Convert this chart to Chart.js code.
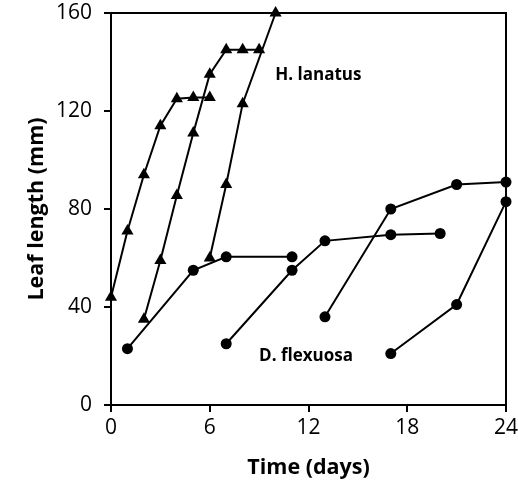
<!DOCTYPE html>
<html>
<head>
<meta charset="utf-8">
<script src="https://cdn.jsdelivr.net/npm/chart.js@4/dist/chart.umd.min.js"></script>
<style>
html,body{margin:0;padding:0;background:#fff;}
#wrap{width:518px;height:485px;}
</style>
</head>
<body>
<div id="wrap"><canvas id="c" width="518" height="485"></canvas></div>
<script>
// H. lanatus cohorts (triangles)
const hlDays1 = [0, 1, 2, 3, 4, 5, 6];
const hlLen1  = [44, 71, 94, 114, 125, 125.5, 125.5];
const hlDays2 = [2, 3, 4, 5, 6, 7, 8, 9];
const hlLen2  = [35, 59, 85.5, 111, 135, 145, 145, 145];
const hlDays3 = [6, 7, 8, 10];
const hlLen3  = [60, 90, 123, 160];
// D. flexuosa cohorts (circles)
const dfDays1 = [1, 5, 7, 11];
const dfLen1  = [23, 55, 60.5, 60.5];
const dfDays2 = [7, 11, 13, 17, 20];
const dfLen2  = [25, 55, 67, 69.5, 70];
const dfDays3 = [13, 17, 21, 24];
const dfLen3  = [36, 80, 90, 91];
const dfDays4 = [17, 21, 24];
const dfLen4  = [21, 41, 83];

const xTicks = [0, 6, 12, 18, 24];
const yTicks = [0, 40, 80, 120, 160];
const seriesLabels = ['H. lanatus', 'D. flexuosa'];

function pts(xs, ys){ return xs.map((x,i)=>({x:x, y:ys[i]})); }

function ds(xs, ys, tri){
  return {
    data: pts(xs, ys),
    showLine: true,
    borderColor: '#000',
    backgroundColor: '#000',
    borderWidth: 2,
    pointStyle: tri ? 'triangle' : 'circle',
    pointRadius: tri ? 7 : 5.5,
    pointBorderWidth: 0,
    pointBackgroundColor: '#000',
    clip: false,
    tension: 0
  };
}

const frame = {
  id: 'frame',
  afterDatasetsDraw(chart){
    const {ctx, chartArea:a, scales} = chart;
    ctx.save();
    ctx.strokeStyle = '#000';
    ctx.lineWidth = 2;
    ctx.beginPath();
    ctx.moveTo(a.left, a.top);
    ctx.lineTo(a.right, a.top);
    ctx.lineTo(a.right, a.bottom);
    ctx.stroke();
    ctx.fillStyle = '#000';
    ctx.font = 'bold 17px "Open Sans"';
    ctx.textAlign = 'center';
    ctx.textBaseline = 'middle';
    ctx.fillText(seriesLabels[0], scales.x.getPixelForValue(12.6), scales.y.getPixelForValue(134.6));
    ctx.fillText(seriesLabels[1], scales.x.getPixelForValue(11.85), scales.y.getPixelForValue(20));
    ctx.restore();
  }
};

new Chart(document.getElementById('c'), {
  type: 'scatter',
  data: {
    datasets: [
      ds(hlDays1, hlLen1, true),
      ds(hlDays2, hlLen2, true),
      ds(hlDays3, hlLen3, true),
      ds(dfDays1, dfLen1, false),
      ds(dfDays2, dfLen2, false),
      ds(dfDays3, dfLen3, false),
      ds(dfDays4, dfLen4, false)
    ]
  },
  options: {
    responsive: false,
    animation: false,
    layout: { padding: { top: 13, right: 12, left: 0, bottom: 0 } },
    plugins: { legend: { display: false }, tooltip: { enabled: false } },
    scales: {
      x: {
        type: 'linear',
        min: 0, max: 24,
        afterBuildTicks(s){ s.ticks = xTicks.map(v=>({value:v})); },
        afterFit(s){ s.height = 80; s.paddingLeft = 0; s.paddingRight = 0; },
        border: { color: '#000', width: 2 },
        grid: { drawOnChartArea: false, drawTicks: true, tickLength: 7, color: '#000', lineWidth: 2 },
        ticks: { color: '#000', font: { family: '"Open Sans"', size: 21 }, padding: 3, maxRotation: 0 },
        title: { display: true, text: 'Time (days)', color: '#000', font: { family: '"Open Sans"', size: 21.5, weight: 'bold' }, padding: { top: 0, bottom: 4 } }
      },
      y: {
        type: 'linear',
        min: 0, max: 160,
        afterBuildTicks(s){ s.ticks = yTicks.map(v=>({value:v})); },
        afterFit(s){ s.width = 111; s.paddingTop = 0; s.paddingBottom = 0; },
        border: { color: '#000', width: 2 },
        grid: { drawOnChartArea: false, drawTicks: true, tickLength: 7, color: '#000', lineWidth: 2 },
        ticks: { color: '#000', font: { family: '"Open Sans"', size: 21 }, padding: 12 },
        title: { display: true, text: 'Leaf length (mm)', color: '#000', font: { family: '"Open Sans"', size: 21.5, weight: 'bold' }, padding: { top: 24, bottom: 0 } }
      }
    }
  },
  plugins: [frame]
});
</script>
</body>
</html>
